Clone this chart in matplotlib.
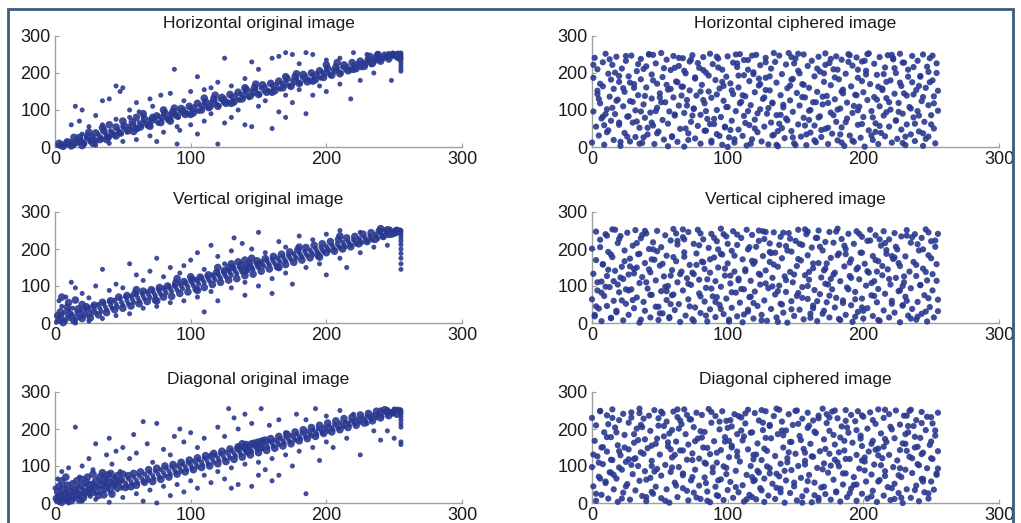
import numpy as np
import matplotlib.pyplot as plt
from matplotlib.patches import Rectangle

plt.rcParams['font.family'] = ['Liberation Sans', 'DejaVu Sans']

# titres des six panneaux
titles = ["Horizontal original image", "Horizontal ciphered image",
          "Vertical original image", "Vertical ciphered image",
          "Diagonal original image", "Diagonal ciphered image"]
ticks = [0, 100, 200, 300]

# Horizontal, image originale (bande + points isolés)
h_orig = [(2,4),(4,1),(5,9),(7,3),(8,12),(10,6),(11,15),(13,9),(14,4),(16,18),(17,11),(19,22),(20,14),(22,8),(23,25),
    (25,19),(26,13),(28,30),(29,22),(31,16),(32,34),(34,27),(35,21),(37,38),(38,31),(40,25),(41,44),(43,36),(44,30),
    (46,48),(47,41),(49,35),(50,53),(52,46),(53,40),(55,57),(56,50),(58,62),(59,54),(61,48),(62,66),(64,59),(65,70),
    (67,62),(68,56),(70,74),(71,67),(73,78),(74,70),(76,64),(77,82),(79,75),(80,86),(82,78),(83,72),(85,90),(86,83),
    (88,94),(89,86),(91,80),(92,98),(94,91),(95,102),(97,94),(98,88),(100,106),(101,99),(103,110),(104,101),(106,96),
    (107,113),(109,105),(110,117),(112,108),(113,103),(115,121),(116,113),(118,125),(119,116),(121,111),(122,128),
    (124,120),(125,132),(127,124),(128,118),(130,136),(131,128),(133,140),(134,131),(136,126),(137,143),(139,135),
    (140,147),(142,138),(143,133),(145,152),(146,143),(148,156),(149,146),(151,141),(152,159),(154,151),(155,163),
    (157,154),(158,149),(160,166),(161,158),(163,170),(164,161),(166,156),(167,173),(169,165),(170,177),(172,168),
    (173,163),(175,180),(176,172),(178,184),(179,176),(181,171),(182,188),(184,180),(185,191),(187,183),(188,178),
    (190,195),(191,187),(193,199),(194,191),(196,186),(197,202),(199,195),(200,206),(202,198),(203,193),(205,209),
    (206,202),(208,212),(209,205),(211,200),(212,215),(214,208),(215,219),(217,212),(218,207),(220,222),(221,216),
    (223,226),(224,219),(226,214),(227,229),(229,223),(230,232),(232,227),(233,222),(235,236),(236,231),(238,240),
    (239,234),(241,243),(242,238),(244,246),(245,241),(247,249),(248,244),(250,252),(251,247),(252,253),(253,250),
    (254,252),(255,254),(255,248),(255,243),(255,236),(255,228),(255,220),(255,212),(255,205),(254,246),(253,254),
    (249,254),(246,253),
    (15,110),(20,100),(12,60),(18,70),(25,55),(30,85),(35,125),(40,130),(45,165),(48,150),(50,160),(55,100),(60,120),
    (62,95),(65,85),(70,130),(72,110),(78,140),(85,145),(88,210),(95,125),(100,150),(105,190),(110,155),(115,160),
    (120,175),(125,240),(130,165),(140,185),(145,230),(150,210),(160,240),(165,245),(170,255),(175,250),(180,225),
    (185,255),(190,250),(200,235),(210,240),(220,255),(230,250),(238,252),(60,20),(70,30),(75,15),(80,40),(90,8),
    (92,45),(100,60),(105,35),(110,70),(120,8),(125,65),(130,80),(140,60),(145,55),(150,110),(160,50),(165,95),
    (170,80),(175,120),(185,90),(190,140),(200,150),(210,170),(218,130),(225,180),(235,200),(248,180),(30,5),(40,10),
    (50,15),(20,35),(35,60),(45,75),(55,80),(90,55),(115,90),(135,100),(155,125),(170,140),(180,155),(195,165)]
h_band2 = [(3,10),(6,2),(9,14),(12,3),(15,12),(18,26),(21,11),(24,30),(27,18),(30,38),(33,20),(36,44),(39,26),(42,36),
    (45,54),(48,38),(51,58),(54,44),(57,68),(60,50),(63,54),(66,76),(69,60),(72,80),(75,84),(78,66),(81,92),(84,76),
    (87,96),(90,84),(93,104),(96,88),(99,110),(102,92),(105,118),(108,100),(111,122),(114,108),(117,130),(120,110),
    (123,134),(126,118),(129,142),(132,122),(135,148),(138,130),(141,155),(144,138),(147,160),(150,142),(153,168),
    (156,148),(159,172),(162,152),(165,178),(168,160),(171,185),(174,164),(177,190),(180,172),(183,196),(186,176),
    (189,200),(192,182),(195,206),(198,188),(201,212),(204,194),(207,216),(210,198),(213,222),(216,206),(219,228),
    (222,212),(225,232),(228,218),(231,238),(234,226),(237,244),(240,232),(243,248),(246,238),(249,250),(252,244),
    (254,240),(50,70),(60,80),(35,52),(25,40),(14,26),(45,30),(58,42),(70,56),(85,70),(100,88),(130,118),(160,148),
    (190,178),(220,210),(110,132),(140,160),(170,190),(200,222),(80,100),(65,90),(40,60),(20,4),(28,10),(38,20),
    (88,105),(118,140),(148,170),(178,198),(208,228),(238,250),(232,245)]

# Horizontal, image chiffrée
h_ciph = [(0,12),(1,187),(1,96),(2,241),(3,55),(4,143),(4,210),(5,31),(6,118),(7,77),(8,229),(8,164),(9,6),(10,252),
    (11,102),(12,45),(12,198),(13,136),(14,71),(15,222),(16,19),(16,157),(17,89),(18,244),(19,128),(20,60),(20,176),
    (21,3),(22,212),(23,110),(24,38),(24,149),(25,233),(26,82),(27,191),(28,15),(28,124),(29,247),(30,66),(31,170),
    (32,99),(32,27),(33,205),(34,140),(35,52),(36,238),(36,183),(37,11),(38,115),(39,79),(40,218),(40,161),(41,34),
    (42,250),(43,93),(44,131),(44,196),(45,58),(46,8),(47,226),(48,106),(48,171),(49,42),(50,145),(51,254),(52,73),
    (52,189),(53,20),(54,121),(55,236),(56,63),(56,155),(57,96),(58,208),(59,29),(60,246),(60,134),(61,85),(62,177),
    (63,14),(64,219),(64,112),(65,49),(66,163),(67,240),(68,1),(68,92),(69,199),(70,127),(71,37),(72,231),(72,153),
    (73,68),(74,248),(75,104),(76,23),(76,185),(77,139),(78,57),(79,214),(80,87),(80,9),(81,168),(82,243),(83,118),
    (84,44),(84,201),(85,76),(86,150),(87,252),(88,17),(88,133),(89,224),(90,62),(91,181),(92,100),(92,35),(93,239),
    (94,158),(95,81),(96,6),(96,209),(97,125),(98,53),(99,190),(100,245),(100,108),(101,26),(102,172),(103,71),
    (104,228),(104,143),(105,12),(106,97),(107,216),(108,47),(108,161),(109,251),(110,122),(111,30),(112,194),(112,84),
    (113,137),(114,4),(115,235),(116,59),(116,178),(117,113),(118,21),(119,202),(120,148),(120,74),(121,249),(122,40),
    (123,166),(124,102),(124,221),(125,15),(126,130),(127,55),(128,187),(128,241),(129,90),(130,7),(131,153),(132,212),
    (132,66),(133,118),(134,33),(135,230),(136,174),(136,86),(137,2),(138,247),(139,140),(140,51),(140,197),(141,107),
    (142,24),(143,223),(144,159),(144,72),(145,254),(146,126),(147,43),(148,184),(148,95),(149,10),(150,239),(151,146),
    (152,61),(152,206),(153,112),(154,28),(155,170),(156,250),(156,79),(157,134),(158,5),(159,219),(160,98),(160,160),
    (161,39),(162,233),(163,121),(164,58),(164,191),(165,13),(166,149),(167,244),(168,83),(168,204),(169,27),(170,115),
    (171,176),(172,49),(172,253),(173,138),(174,8),(175,227),(176,93),(176,167),(177,36),(178,210),(179,129),(180,68),
    (180,245),(181,18),(182,183),(183,104),(184,236),(184,53),(185,155),(186,3),(187,198),(188,120),(188,77),(189,251),
    (190,31),(191,164),(192,92),(192,220),(193,14),(194,141),(195,242),(196,60),(196,187),(197,109),(198,25),(199,231),
    (200,148),(200,81),(201,1),(202,206),(203,127),(204,45),(204,253),(205,170),(206,97),(207,19),(208,225),(208,135),
    (209,64),(210,195),(211,8),(212,110),(212,243),(213,38),(214,158),(215,85),(216,215),(216,29),(217,132),(218,248),
    (219,55),(220,180),(220,101),(221,12),(222,237),(223,144),(224,72),(224,200),(225,22),(226,119),(227,252),(228,47),
    (228,165),(229,90),(230,228),(231,5),(232,139),(232,61),(233,209),(234,108),(235,34),(236,246),(236,175),(237,80),
    (238,16),(239,154),(240,233),(240,97),(241,42),(242,192),(243,124),(244,3),(244,250),(245,68),(246,160),(247,217),
    (248,28),(248,113),(249,240),(250,86),(251,180),(252,50),(252,137),(253,10),(254,226),(255,152),(255,98)]
h_ciph2 = [(143,77),(17,201),(230,145),(88,12),(201,233),(55,168),(122,91),(9,59),(179,188),(246,22),(64,241),(111,140),
    (36,96),(158,34),(217,176),(93,215),(5,130),(187,67),(134,254),(71,19),(248,203),(27,83),(165,121),(102,46),
    (222,240),(45,180),(150,5),(80,150),(196,99),(13,237),(238,63),(119,197),(59,27),(172,222),(99,108),(31,160),
    (209,41),(147,182),(74,85),(252,118),(21,14),(128,229),(184,150),(41,52),(106,250),(233,190),(160,73),(68,206),
    (6,171),(192,17),(87,62),(141,114),(226,95),(50,134),(117,9),(203,251),(34,224),(170,136),(96,176),(244,37),
    (15,106),(137,43),(61,88),(214,154),(107,226),(178,86),(25,246),(153,199),(82,127),(241,165),(48,37),(124,170),
    (196,209),(8,82),(164,18),(92,244),(219,121),(133,31),(39,138),(207,80),(76,188),(113,65),(251,247),(181,101),
    (56,2),(147,243),(20,192),(229,11),(103,153),(166,212),(70,112),(237,216),(11,40),(189,230),(127,134),(44,66),
    (212,57),(84,97),(156,168),(30,122),(244,135),(118,247),(174,52),(63,175),(199,178),(139,87),(1,222),(224,71),
    (94,30),(149,226),(53,213),(184,12),(109,118),(33,69),(215,197),(78,227),(161,100),(23,159),(250,61),(131,191),
    (66,139),(193,111),(100,0),(42,251),(176,238),(120,50),(235,104),(14,182),(86,193),(206,31),(155,135),(47,97),
    (227,174),(115,209),(185,145),(26,28),(138,63),(73,236),(242,190),(97,165),(169,46),(38,211),(210,128),(130,105),
    (58,157),(221,249),(90,76),(181,209),(18,125),(152,252),(69,50),(237,142),(105,21),(199,62),(123,185),(10,89),
    (174,119),(82,208),(231,28),(146,166),(51,121),(202,196),(112,235),(35,9),(167,80),(249,175),(92,142),(217,94),
    (136,6),(4,152),(190,248),(61,214),(157,58),(229,228),(108,193),(28,174),(183,34),(75,103),(241,85),(128,154),
    (45,249),(211,163),(98,55),(171,199),(20,66),(148,26),(223,213),(67,163),(115,97),(195,140),(38,26),(254,200),
    (133,120),(83,44)]

# Vertical, image originale
v_orig = [(1,2),(2,8),(3,15),(4,4),(5,20),(6,10),(7,28),(8,6),(9,16),(10,35),(11,12),(12,24),(13,40),(14,18),(15,9),
    (16,30),(17,22),(18,14),(19,33),(20,26),(21,19),(22,38),(23,29),(24,21),(25,42),(26,33),(27,25),(28,46),(29,36),
    (30,28),(32,50),(33,40),(34,32),(36,54),(37,44),(38,36),(40,58),(41,48),(42,40),(44,62),(45,52),(46,44),(48,66),
    (49,56),(50,48),(52,70),(53,60),(54,52),(56,73),(57,64),(58,56),(60,77),(61,68),(62,60),(64,80),(65,72),(66,65),
    (68,84),(69,76),(70,69),(72,88),(73,80),(74,73),(76,91),(77,84),(78,77),(80,95),(81,88),(82,81),(84,99),(85,92),
    (86,85),(88,103),(89,96),(90,89),(92,107),(93,100),(94,93),(96,110),(97,104),(98,97),(100,114),(101,108),(102,101),
    (104,118),(105,112),(106,105),(108,122),(109,116),(110,109),(112,126),(113,119),(114,113),(116,130),(117,123),
    (118,117),(120,134),(121,127),(122,121),(124,138),(125,131),(126,125),(128,142),(129,135),(130,129),(132,146),
    (133,139),(134,133),(136,150),(137,143),(138,137),(140,154),(141,147),(142,141),(144,158),(145,151),(146,145),
    (148,162),(149,155),(150,149),(152,166),(153,159),(154,153),(156,170),(157,163),(158,157),(160,173),(161,166),
    (162,160),(164,176),(165,170),(166,164),(168,180),(169,173),(170,167),(172,183),(173,177),(174,171),(176,187),
    (177,180),(178,175),(180,190),(181,184),(182,178),(184,194),(185,187),(186,182),(188,197),(189,191),(190,185),
    (192,201),(193,194),(194,189),(196,204),(197,198),(198,192),(200,207),(201,201),(202,196),(204,211),(205,205),
    (206,199),(208,214),(209,208),(210,203),(212,218),(213,212),(214,206),(216,221),(217,215),(218,210),(220,225),
    (221,219),(222,213),(224,228),(225,222),(226,217),(228,232),(229,226),(230,221),(232,235),(233,229),(234,224),
    (236,239),(237,233),(238,228),(240,243),(241,237),(242,232),(244,246),(245,241),(246,236),(248,250),(249,245),
    (250,240),(251,253),(252,248),(253,244),(254,252),(255,250),(255,245),(255,238),(255,230),(255,222),(255,212),
    (255,200),(255,188),(255,175),(255,160),(255,145),(252,254),(247,254),(243,252),
    (3,60),(5,45),(8,70),(12,110),(15,95),(20,80),(25,68),(30,100),(35,145),(40,88),(45,105),(50,95),(55,160),(60,130),
    (65,115),(70,140),(75,175),(80,125),(85,150),(88,100),(92,135),(95,155),(100,170),(105,190),(110,145),(115,210),
    (120,180),(125,160),(130,195),(132,230),(138,215),(145,200),(150,245),(155,190),(165,220),(170,205),(180,235),
    (190,225),(200,240),(210,250),(225,245),(15,0),(25,5),(35,12),(45,20),(55,25),(65,40),(75,45),(85,55),(95,60),
    (105,70),(115,85),(120,60),(130,95),(140,110),(150,100),(160,120),(170,135),(175,105),(185,150),(195,160),
    (200,130),(210,175),(215,150),(225,190),(235,205),(245,210),(160,80),(110,30),(140,75)]
v_band2 = [(2,20),(4,30),(6,1),(9,42),(11,24),(14,6),(17,38),(20,12),(23,44),(26,14),(29,48),(32,22),(35,56),(38,28),
    (41,60),(44,36),(47,70),(50,40),(53,74),(56,46),(59,80),(62,52),(65,86),(68,58),(71,90),(74,62),(77,96),(80,70),
    (83,100),(86,72),(89,108),(92,80),(95,112),(98,84),(101,118),(104,92),(107,124),(110,96),(113,130),(116,104),
    (119,136),(122,110),(125,142),(128,116),(131,150),(134,120),(137,156),(140,128),(143,162),(146,132),(149,168),
    (152,140),(155,174),(158,146),(161,180),(164,152),(167,186),(170,158),(173,192),(176,164),(179,198),(182,170),
    (185,204),(188,176),(191,210),(194,182),(197,214),(200,190),(203,220),(206,194),(209,226),(212,200),(215,230),
    (218,206),(221,234),(224,214),(227,240),(230,220),(233,244),(236,226),(239,248),(242,234),(245,252),(248,240),
    (251,244),(130,160),(135,165),(140,170),(128,150),(145,175),(150,158),(20,50),(10,55),(5,70),(15,62),(140,140),
    (143,150),(60,90),(90,120),(120,150),(180,205),(210,235),(240,255),(100,125),(75,60),(105,88),(165,150),(195,178)]

# Vertical, image chiffrée
v_ciph = [(0,201),(0,64),(1,133),(2,18),(3,247),(3,170),(4,88),(5,39),(6,225),(7,112),(7,5),(8,158),(9,73),(10,240),
    (11,127),(11,46),(12,192),(13,97),(14,14),(15,253),(15,178),(16,60),(17,141),(18,29),(19,216),(19,104),(20,83),
    (21,235),(22,152),(23,7),(23,119),(24,196),(25,52),(26,244),(27,131),(27,22),(28,174),(29,91),(30,209),(31,40),
    (31,146),(32,251),(33,69),(34,186),(35,1),(35,108),(36,229),(37,124),(38,57),(39,162),(39,33),(40,242),(41,93),
    (42,200),(43,15),(43,137),(44,76),(45,218),(46,171),(47,44),(47,115),(48,249),(49,8),(50,155),(51,86),(51,205),
    (52,26),(53,126),(54,237),(55,62),(55,182),(56,100),(57,13),(58,223),(59,143),(59,75),(60,254),(61,35),(62,167),
    (63,110),(63,212),(64,51),(65,3),(66,139),(67,232),(67,88),(68,179),(69,20),(70,121),(71,246),(71,64),(72,157),
    (73,103),(74,10),(75,214),(75,132),(76,42),(77,188),(78,252),(79,80),(79,117),(80,27),(81,166),(82,226),(83,58),
    (83,146),(84,95),(85,4),(86,203),(87,136),(87,37),(88,241),(89,72),(90,177),(91,113),(91,16),(92,221),(93,150),
    (94,49),(95,98),(95,255),(96,185),(97,24),(98,128),(99,66),(99,234),(100,161),(101,9),(102,107),(103,195),(103,41),
    (104,248),(105,139),(106,82),(107,18),(107,211),(108,120),(109,55),(110,230),(111,172),(111,2),(112,91),(113,145),
    (114,252),(115,31),(115,199),(116,70),(117,114),(118,238),(119,12),(119,160),(120,85),(121,206),(122,46),(123,133),
    (123,250),(124,104),(125,22),(126,181),(127,61),(127,227),(128,142),(129,6),(130,94),(131,215),(131,165),(132,38),
    (133,122),(134,245),(135,77),(135,190),(136,15),(137,152),(138,101),(139,233),(139,52),(140,175),(141,28),(142,126),
    (143,208),(143,84),(144,1),(145,243),(146,138),(147,59),(147,193),(148,110),(149,19),(150,222),(151,154),(151,73),
    (152,252),(153,36),(154,169),(155,97),(155,211),(156,10),(157,129),(158,240),(159,65),(159,183),(160,117),(161,25),
    (162,204),(163,148),(163,47),(164,89),(165,230),(166,5),(167,162),(167,250),(168,78),(169,123),(170,196),(171,33),
    (171,142),(172,219),(173,56),(174,104),(175,246),(175,15),(176,176),(177,91),(178,217),(179,42),(179,136),(180,68),
    (181,255),(182,188),(183,8),(183,113),(184,227),(185,61),(186,153),(187,22),(187,200),(188,96),(189,241),(190,127),
    (191,48),(191,172),(192,3),(193,214),(194,84),(195,145),(195,248),(196,30),(197,118),(198,190),(199,66),(199,233),
    (200,12),(201,160),(202,101),(203,222),(203,40),(204,136),(205,252),(206,75),(207,181),(207,19),(208,113),(209,237),
    (210,56),(211,167),(211,92),(212,6),(213,209),(214,129),(215,34),(215,248),(216,79),(217,187),(218,145),(219,15),
    (219,226),(220,104),(221,60),(222,173),(223,243),(223,28),(224,122),(225,199),(226,86),(227,2),(227,154),(228,234),
    (229,47),(230,110),(231,180),(231,71),(232,251),(233,20),(234,139),(235,217),(235,94),(236,38),(237,165),(238,240),
    (239,9),(239,127),(240,57),(241,196),(242,102),(243,230),(243,25),(244,147),(245,75),(246,253),(247,115),(247,4),
    (248,183),(249,43),(250,221),(251,132),(251,88),(252,15),(253,206),(254,159),(255,63),(255,241)]
v_ciph2 = [(112,23),(45,199),(203,140),(7,82),(166,230),(91,57),(235,12),(28,153),(144,196),(71,106),(250,175),(18,33),
    (189,91),(126,248),(58,128),(221,52),(100,214),(36,9),(173,161),(80,242),(242,103),(14,185),(155,68),(98,147),
    (212,226),(49,44),(132,189),(194,17),(63,222),(230,126),(4,110),(117,71),(180,247),(87,172),(22,61),(149,131),
    (246,31),(67,253),(199,190),(110,92),(33,216),(161,14),(226,162),(54,98),(138,211),(95,38),(208,73),(11,236),
    (176,119),(120,166),(42,145),(253,223),(75,5),(185,54),(141,244),(27,88),(217,197),(102,128),(60,178),(163,40),
    (236,232),(8,159),(128,107),(196,150),(84,20),(39,249),(152,81),(229,48),(65,132),(107,239),(181,183),(16,113),
    (211,8),(134,158),(92,70),(48,194),(246,138),(170,25),(123,222),(3,45),(206,108),(77,157),(157,253),(31,134),
    (221,181),(115,36),(186,209),(57,16),(143,116),(248,67),(93,199),(20,227),(172,147),(103,83),(232,236),(43,76),
    (199,42),(131,192),(68,226),(214,154),(6,205),(159,100),(85,118),(240,17),(118,168),(25,91),(191,122),(137,3),
    (52,160),(224,206),(97,240),(166,59),(12,144),(254,114),(146,228),(72,45),(209,170),(35,187),(124,130),(182,11),
    (60,77),(227,88),(105,182),(17,252),(168,206),(88,93),(239,157),(140,50),(40,110),(197,241),(113,140),(2,22),
    (219,119),(79,210),(152,173),(30,62),(175,74),(125,7),(244,199),(62,242),(190,163),(108,115),(24,167),(232,60),
    (160,138),(50,26),(216,216),(95,187),(137,86),(10,98),(200,33),(74,136),(248,245),(153,214),(37,238),(178,131),
    (119,54),(229,100),(82,164),(14,13),(187,186),(128,246),(55,86),(210,139),(101,4),(163,161),(44,172),(240,213),
    (133,99),(68,191),(194,64),(21,123),(147,37),(223,177),(90,230),(172,106),(58,51),(205,223),(116,205),(33,150),
    (255,32),(159,247),(80,72)]

# Diagonale, image originale
d_orig = [(1,5),(2,18),(3,1),(4,12),(5,26),(6,8),(7,16),(8,32),(9,4),(10,22),(11,14),(12,38),(13,28),(14,10),(15,20),
    (16,34),(17,44),(18,16),(19,26),(20,40),(21,30),(22,20),(23,48),(24,36),(25,24),(26,18),(27,42),(28,52),(29,32),
    (30,26),(31,46),(32,38),(33,28),(34,58),(35,40),(36,32),(37,50),(38,62),(39,36),(40,44),(41,30),(42,54),(43,40),
    (44,70),(45,48),(46,36),(47,58),(48,46),(49,40),(50,62),(52,54),(53,46),(54,66),(56,58),(57,50),(58,70),(60,62),
    (61,54),(62,74),(64,66),(65,58),(66,78),(68,70),(69,62),(70,82),(72,74),(73,66),(74,86),(76,78),(77,70),(78,90),
    (80,82),(81,74),(82,94),(84,86),(85,78),(86,98),(88,90),(89,82),(90,101),(92,94),(93,86),(94,105),(96,98),(97,90),
    (98,109),(100,102),(101,94),(102,113),(104,106),(105,98),(106,117),(108,110),(109,102),(110,121),(112,114),
    (113,106),(114,125),(116,118),(117,110),(118,129),(120,122),(121,114),(122,133),(124,126),(125,118),(126,137),
    (128,130),(129,122),(130,141),(132,134),(133,127),(134,145),(136,138),(137,131),(138,149),(140,142),(141,135),
    (142,152),(144,146),(145,139),(146,156),(148,150),(149,143),(150,160),(152,154),(153,147),(154,163),(156,157),
    (157,150),(158,167),(160,161),(161,154),(162,170),(164,164),(165,158),(166,174),(168,168),(169,162),(170,178),
    (172,172),(173,166),(174,182),(176,176),(177,170),(178,186),(180,180),(181,174),(182,190),(184,184),(185,178),
    (186,193),(188,188),(189,182),(190,197),(192,192),(193,186),(194,201),(196,196),(197,190),(198,205),(200,200),
    (201,194),(202,208),(204,203),(205,198),(206,212),(208,207),(209,202),(210,216),(212,211),(213,206),(214,219),
    (216,215),(217,210),(218,223),(220,219),(221,214),(222,227),(224,223),(225,218),(226,231),(228,227),(229,222),
    (230,235),(232,231),(233,226),(234,238),(236,235),(237,230),(238,242),(240,239),(241,234),(242,246),(244,243),
    (245,238),(246,249),(248,247),(249,242),(250,252),(251,248),(252,254),(253,250),(254,253),(255,251),(255,246),
    (255,240),(255,232),(255,224),(255,214),(255,205),(255,165),(255,158),(250,254),(245,253),(240,252),
    (0,40),(2,65),(5,85),(10,95),(15,205),(18,70),(20,100),(25,120),(28,90),(30,160),(35,75),(38,130),(40,175),
    (42,105),(45,140),(48,85),(50,150),(55,120),(58,185),(60,135),(65,220),(68,160),(72,110),(75,215),(80,145),
    (85,130),(88,180),(92,200),(95,165),(100,190),(105,150),(110,175),(115,130),(120,205),(125,180),(128,255),
    (132,230),(135,200),(140,240),(145,215),(152,255),(158,210),(165,225),(170,190),(178,240),(185,225),(192,255),
    (200,235),(210,250),(220,240),(230,215),(245,195),(250,175),(10,0),(20,5),(30,10),(40,2),(50,15),(60,25),(65,5),
    (70,35),(75,0),(80,45),(85,20),(90,50),(95,30),(100,60),(105,40),(110,75),(115,55),(120,85),(125,65),(130,95),
    (135,50),(140,105),(145,45),(150,110),(155,90),(160,120),(165,75),(170,130),(175,100),(180,140),(185,25),
    (190,150),(195,115),(200,165),(205,150),(215,175),(225,130),(235,195),(240,170),(160,60),(150,75),(130,40)]
d_band2 = [(1,12),(2,30),(3,8),(4,22),(5,2),(6,40),(7,10),(8,24),(9,48),(10,14),(11,32),(12,6),(13,52),(14,20),(15,36),
    (16,60),(17,26),(18,8),(19,46),(20,64),(21,14),(22,30),(23,56),(24,70),(25,36),(26,50),(27,28),(28,78),(29,44),
    (30,60),(32,20),(33,70),(34,48),(35,82),(36,22),(37,64),(38,44),(39,76),(40,56),(41,80),(42,24),(43,62),(44,50),
    (46,74),(48,60),(50,78),(52,42),(54,74),(56,44),(58,80),(60,48),(63,84),(66,56),(69,90),(72,58),(75,94),(78,64),
    (81,100),(84,70),(87,104),(90,78),(93,110),(96,84),(99,116),(102,90),(105,122),(108,96),(111,128),(114,100),
    (117,134),(120,106),(123,140),(126,112),(129,146),(132,118),(135,152),(138,124),(141,158),(144,130),(147,162),
    (150,136),(153,168),(156,142),(159,174),(162,148),(165,180),(168,154),(171,186),(174,160),(177,192),(180,168),
    (183,198),(186,174),(189,204),(192,180),(195,210),(198,188),(201,216),(204,192),(207,222),(210,198),(213,228),
    (216,204),(219,232),(222,210),(225,238),(228,216),(231,242),(234,222),(237,248),(240,230),(243,252),(246,236),
    (249,244),(252,240),(140,150),(145,160),(150,165),(135,148),(155,170),(142,140),(148,156),(138,160),(152,150),
    (5,60),(8,70),(3,45)]

# Diagonale, image chiffrée
d_ciph = [(0,230),(0,97),(1,45),(2,168),(3,6),(3,210),(4,126),(5,71),(6,249),(7,150),(7,22),(8,105),(9,191),(10,58),
    (11,237),(11,139),(12,12),(13,83),(14,178),(15,116),(15,253),(16,37),(17,204),(18,66),(19,156),(19,3),(20,224),
    (21,129),(22,90),(23,241),(23,28),(24,184),(25,111),(26,51),(27,217),(27,145),(28,9),(29,245),(30,78),(31,163),
    (31,119),(32,34),(33,201),(34,100),(35,255),(35,60),(36,137),(37,19),(38,228),(39,172),(39,86),(40,5),(41,148),
    (42,236),(43,68),(43,195),(44,114),(45,25),(46,251),(47,160),(47,44),(48,92),(49,209),(50,131),(51,13),(51,74),
    (52,242),(53,180),(54,103),(55,37),(55,220),(56,153),(57,1),(58,84),(59,197),(59,123),(60,247),(61,55),(62,166),
    (63,16),(63,232),(64,97),(65,142),(66,213),(67,40),(67,75),(68,253),(69,186),(70,117),(71,7),(71,158),(72,226),
    (73,61),(74,134),(75,28),(75,205),(76,90),(77,244),(78,174),(79,47),(79,120),(80,11),(81,238),(82,150),(83,69),
    (83,192),(84,106),(85,31),(86,254),(87,132),(87,2),(88,217),(89,83),(90,167),(91,44),(91,235),(92,109),(93,19),
    (94,199),(95,143),(95,64),(96,248),(97,8),(98,178),(99,95),(99,222),(100,35),(101,124),(102,57),(103,207),
    (103,155),(104,14),(105,240),(106,87),(107,139),(107,186),(108,29),(109,112),(110,231),(111,48),(111,169),(112,4),
    (113,215),(114,76),(115,145),(115,252),(116,22),(117,100),(118,191),(119,59),(119,130),(120,243),(121,10),
    (122,161),(123,82),(123,223),(124,40),(125,116),(126,197),(127,3),(127,66),(128,248),(129,141),(130,20),(131,208),
    (131,94),(132,175),(133,52),(134,235),(135,127),(135,11),(136,79),(137,186),(138,252),(139,39),(139,106),(140,220),
    (141,150),(142,1),(143,61),(143,196),(144,121),(145,240),(146,27),(147,89),(147,165),(148,211),(149,45),(150,133),
    (151,7),(151,250),(152,100),(153,181),(154,68),(155,228),(155,18),(156,146),(157,114),(158,34),(159,203),(159,244),
    (160,76),(161,160),(162,2),(163,125),(163,223),(164,55),(165,189),(166,95),(167,14),(167,236),(168,140),(169,42),
    (170,255),(171,172),(171,107),(172,24),(173,216),(174,82),(175,133),(175,195),(176,9),(177,247),(178,63),(179,158),
    (179,117),(180,31),(181,229),(182,99),(183,177),(183,4),(184,207),(185,50),(186,142),(187,251),(187,80),(188,16),
    (189,190),(190,119),(191,238),(191,39),(192,163),(193,70),(194,221),(195,6),(195,130),(196,248),(197,93),(198,182),
    (199,25),(199,154),(200,233),(201,112),(202,58),(203,201),(203,12),(204,139),(205,245),(206,77),(207,168),(207,33),
    (208,104),(209,214),(210,3),(211,147),(211,253),(212,62),(213,188),(214,121),(215,20),(215,230),(216,86),(217,165),
    (218,43),(219,240),(219,130),(220,8),(221,199),(222,97),(223,52),(223,175),(224,250),(225,115),(226,27),(227,212),
    (227,143),(228,70),(229,0),(230,236),(231,160),(231,90),(232,37),(233,191),(234,125),(235,252),(235,14),(236,81),
    (237,208),(238,150),(239,47),(239,224),(240,105),(241,5),(242,176),(243,65),(243,246),(244,136),(245,29),(246,197),
    (247,94),(247,233),(248,12),(249,157),(250,58),(251,215),(251,119),(252,36),(253,182),(254,80),(255,244),(255,140)]
d_ciph2 = [(67,142),(201,88),(12,213),(139,29),(238,179),(84,54),(175,231),(29,103),(117,190),(223,11),(51,247),
    (162,126),(6,66),(98,166),(250,121),(40,16),(188,204),(131,80),(73,226),(215,152),(20,140),(150,249),(106,43),
    (244,65),(57,188),(181,110),(3,25),(126,217),(232,236),(89,96),(34,170),(167,7),(211,129),(77,15),(146,165),
    (253,196),(14,117),(195,50),(113,242),(61,130),(227,94),(100,203),(25,45),(172,146),(136,255),(46,85),(207,224),
    (92,21),(157,104),(240,152),(18,191),(120,62),(186,168),(70,238),(248,26),(38,133),(141,183),(216,73),(107,126),
    (54,6),(179,250),(8,151),(233,208),(125,34),(81,177),(199,115),(29,231),(159,59),(97,99),(221,40),(64,201),
    (145,137),(255,93),(16,76),(187,222),(114,10),(44,155),(229,161),(88,246),(170,91),(128,176),(5,109),(206,18),
    (74,70),(152,214),(243,132),(36,211),(119,118),(193,49),(59,96),(234,249),(102,224),(22,12),(164,193),(138,72),
    (49,229),(213,102),(85,149),(180,29),(11,178),(243,216),(127,147),(70,33),(198,174),(155,1),(32,121),(226,75),
    (110,196),(56,164),(173,240),(93,61),(250,166),(15,230),(144,110),(209,144),(63,253),(122,87),(185,80),(40,63),
    (236,121),(101,168),(164,21),(24,150),(216,252),(80,194),(149,55),(1,131),(195,197),(118,16),(44,100),(238,35),
    (131,211),(67,80),(182,137),(92,136),(250,232),(35,243),(154,170),(211,58),(108,235),(10,54),(176,101),(76,167),
    (231,186),(136,41),(53,208),(201,123),(118,70),(20,96),(167,229),(85,6),(241,102),(140,196),(62,47),(220,206),
    (103,150),(31,186),(190,27),(125,251),(74,116),(254,76),(157,136),(44,30),(206,160),(94,220),(14,82),(178,184),
    (129,99),(58,145),(228,14),(112,180),(37,205),(199,237),(83,109),(244,58),(160,209),(27,118),(216,173),(99,78),
    (171,44),(48,174),(232,141),(142,87),(6,248),(187,119),(65,223),(121,131)]

# (points principaux, points de renfort, taille des marqueurs)
panels = [(h_orig, h_band2, 13, 30), (h_ciph, h_ciph2, 20, 20),
          (v_orig, v_band2, 13, 30), (v_ciph, v_ciph2, 20, 20),
          (d_orig, d_band2, 13, 30), (d_ciph, d_ciph2, 20, 20)]

fig = plt.figure(figsize=(10.21, 5.23), dpi=100)
W, H = 1021, 523

# positions en pixels
col_left = [55, 592]
row_top = [36, 212, 392]
ax_w, ax_h = 407, 111
blue = '#2a3990'

for i, (pts, pts2, s1, s2) in enumerate(panels):
    r, c = divmod(i, 2)
    x0, y0 = col_left[c], row_top[r]
    ax = fig.add_axes([x0 / W, 1 - (y0 + ax_h) / H, ax_w / W, ax_h / H])
    xy = np.array(pts, dtype=float)
    xy2 = np.array(pts2, dtype=float)
    ax.scatter(xy2[:, 0], xy2[:, 1], s=s2, color=blue, edgecolors='none',
               alpha=0.9, clip_on=False, zorder=3)
    ax.scatter(xy[:, 0], xy[:, 1], s=s1, color=blue, edgecolors='none',
               alpha=0.9, clip_on=False, zorder=3)
    ax.set_xlim(0, 300)
    ax.set_ylim(0, 300)
    ax.set_xticks(ticks)
    ax.set_yticks(ticks)
    for side in ['top', 'right']:
        ax.spines[side].set_visible(False)
    for side in ['left', 'bottom']:
        ax.spines[side].set_color('#a0a0a0')
        ax.spines[side].set_linewidth(1.0)
    ax.tick_params(direction='in', length=3, color='#a0a0a0', labelsize=13,
                   labelcolor='#1a1a1a', pad=3)
    ax.set_title(titles[i], fontsize=12.5, color='#1a1a1a', pad=6)

# cadre bleu autour de la figure
fig.patches.append(Rectangle((8 / W, -0.05), (1013 - 8) / W, 1.05 - 9 / H,
                             transform=fig.transFigure, fill=False,
                             edgecolor='#3d5a80', linewidth=2))

fig.savefig('out.png', dpi=100)
